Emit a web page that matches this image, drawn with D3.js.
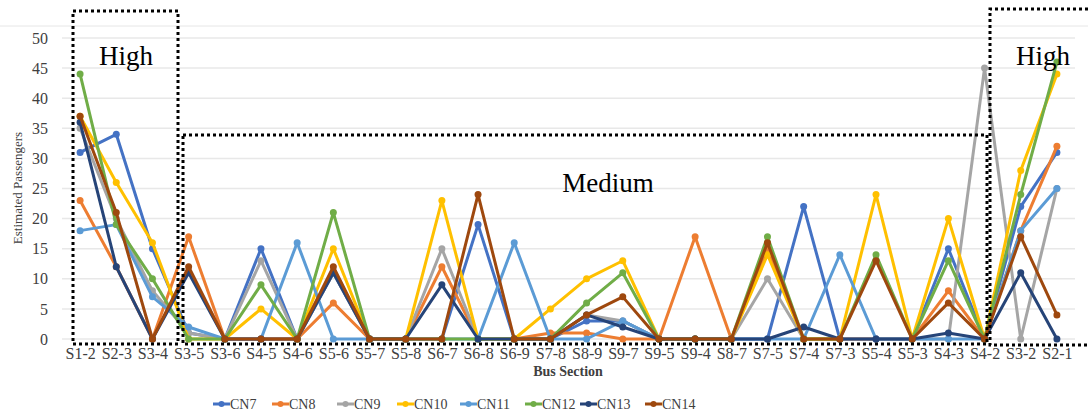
<!DOCTYPE html>
<html>
<head>
<meta charset="utf-8">
<script src="https://cdn.jsdelivr.net/npm/d3@7/dist/d3.min.js"></script>
<style>
html,body{margin:0;padding:0;background:#fff;}
svg{display:block;}
text{font-family:"Liberation Serif","Times New Roman",serif;}
</style>
</head>
<body>
<svg id="chart" width="1088" height="417"></svg>
<script>
const categories = ["S1-2","S2-3","S3-4","S3-5","S3-6","S4-5","S4-6","S5-6","S5-7","S5-8","S6-7","S6-8","S6-9","S7-8","S8-9","S9-7","S9-5","S9-4","S8-7","S7-5","S7-4","S7-3","S5-4","S5-3","S4-3","S4-2","S3-2","S2-1"];
const yTicks = [0,5,10,15,20,25,30,35,40,45,50];
const seriesNames = ["CN7","CN8","CN9","CN10","CN11","CN12","CN13","CN14"];
const CN7  = [31,34,15,1,0,15,0,11,0,0,0,19,0,0,3,3,0,0,0,0,22,0,0,0,15,0,22,31];
const CN8  = [23,12,0,17,0,0,0,6,0,0,12,0,0,1,1,0,0,17,0,15,0,0,0,0,8,0,18,32];
const CN9  = [35,20,8,1,0,13,0,11,0,0,15,0,0,0,4,3,0,0,0,10,0,0,0,0,0,45,0,25];
const CN10 = [37,26,16,0,0,5,0,15,0,0,23,0,0,5,10,13,0,0,0,14,0,0,24,0,20,0,28,44];
const CN11 = [18,19,7,2,0,0,16,0,0,0,0,0,16,0,0,3,0,0,0,0,0,14,0,0,0,0,18,25];
const CN12 = [44,19,10,0,0,9,0,21,0,0,0,0,0,0,6,11,0,0,0,17,0,0,14,0,13,0,24,46];
const CN13 = [36,12,0,11,0,0,0,11,0,0,9,0,0,0,4,2,0,0,0,0,2,0,0,0,1,0,11,0];
const CN14 = [37,21,0,12,0,0,0,12,0,0,0,24,0,0,4,7,0,0,0,16,0,0,13,0,6,0,17,4];
const seriesValues = [CN7,CN8,CN9,CN10,CN11,CN12,CN13,CN14];
const colors = ["#4472C4","#ED7D31","#A5A5A5","#FFC000","#5B9BD5","#70AD47","#264478","#9E480E"];

const svg = d3.select("#chart");
const x = d3.scalePoint().domain(categories).range([62,1075]).padding(0.5);
const y = d3.scaleLinear().domain([0,50]).range([339,38]);

// faint top border line
svg.append("line").attr("x1",0).attr("x2",1088).attr("y1",26).attr("y2",26)
  .attr("stroke","#e6e6e6").attr("stroke-width",1);

// gridlines
svg.append("g").selectAll("line").data(yTicks).join("line")
  .attr("x1",62).attr("x2",1075)
  .attr("y1",d=>y(d)).attr("y2",d=>y(d))
  .attr("stroke","#e8e8e8").attr("stroke-width",1.5);

// y axis
const yAxis = d3.axisLeft(y).tickValues(yTicks).tickSize(0).tickPadding(0);
const yg = svg.append("g").attr("transform","translate(48,0)").call(yAxis);
yg.select(".domain").remove();
yg.selectAll("text").attr("font-size",16).attr("fill","#404040")
  .attr("font-family","Liberation Serif, serif");

// x axis
const xAxis = d3.axisBottom(x).tickSize(0).tickPadding(0);
const xg = svg.append("g").attr("transform","translate(0,347)").call(xAxis);
xg.select(".domain").remove();
xg.selectAll("text").attr("font-size",16).attr("fill","#404040")
  .attr("font-family","Liberation Serif, serif").attr("dy","0.75em");

// axis titles
svg.append("text").attr("transform","translate(22,188) rotate(-90)")
  .attr("text-anchor","middle").attr("font-size",13).attr("fill","#404040")
  .text("Estimated Passengers");
svg.append("text").attr("x",568).attr("y",376).attr("text-anchor","middle")
  .attr("font-size",14).attr("font-weight","bold").attr("fill","#404040")
  .text("Bus Section");

// series
const line = d3.line().x((d,i)=>x(categories[i])).y(d=>y(d));
const sg = svg.append("g");
seriesValues.forEach((vals,si)=>{
  const g = sg.append("g");
  g.append("path").datum(vals).attr("d",line).attr("fill","none")
    .attr("stroke",colors[si]).attr("stroke-width",3).attr("stroke-linejoin","round");
  g.selectAll("circle").data(vals).join("circle")
    .attr("cx",(d,i)=>x(categories[i])).attr("cy",d=>y(d)).attr("r",3.5)
    .attr("fill",colors[si]);
});

// dotted boxes
const boxStyle = sel => sel.attr("fill","none").attr("stroke","#000")
  .attr("stroke-width",3).attr("stroke-dasharray","3,3");
svg.append("path").attr("d","M73,11 H178 V344 H73 Z").call(boxStyle);
svg.append("path").attr("d","M183,135 H987 V344 H183 Z").call(boxStyle);
svg.append("path").attr("d","M1088,9 H990 V345 H1088").call(boxStyle);

// region labels
svg.append("text").attr("x",126).attr("y",65).attr("text-anchor","middle")
  .attr("font-size",27).attr("fill","#000").text("High");
svg.append("text").attr("x",608).attr("y",192).attr("text-anchor","middle")
  .attr("font-size",27).attr("fill","#000").text("Medium");
svg.append("text").attr("x",1043).attr("y",65).attr("text-anchor","middle")
  .attr("font-size",27).attr("fill","#000").text("High");

// legend
const legendX = [213,272,337,397,460,525,580,645];
const lg = svg.append("g");
seriesNames.forEach((n,i)=>{
  const g = lg.append("g").attr("transform",`translate(${legendX[i]},404)`);
  g.append("line").attr("x1",0).attr("x2",17).attr("y1",0).attr("y2",0)
    .attr("stroke",colors[i]).attr("stroke-width",3);
  g.append("circle").attr("cx",8.5).attr("cy",0).attr("r",3).attr("fill",colors[i]);
  g.append("text").attr("x",17).attr("y",0).attr("dy","0.35em")
    .attr("font-size",14).attr("fill","#404040").text(n);
});
</script>
</body>
</html>
